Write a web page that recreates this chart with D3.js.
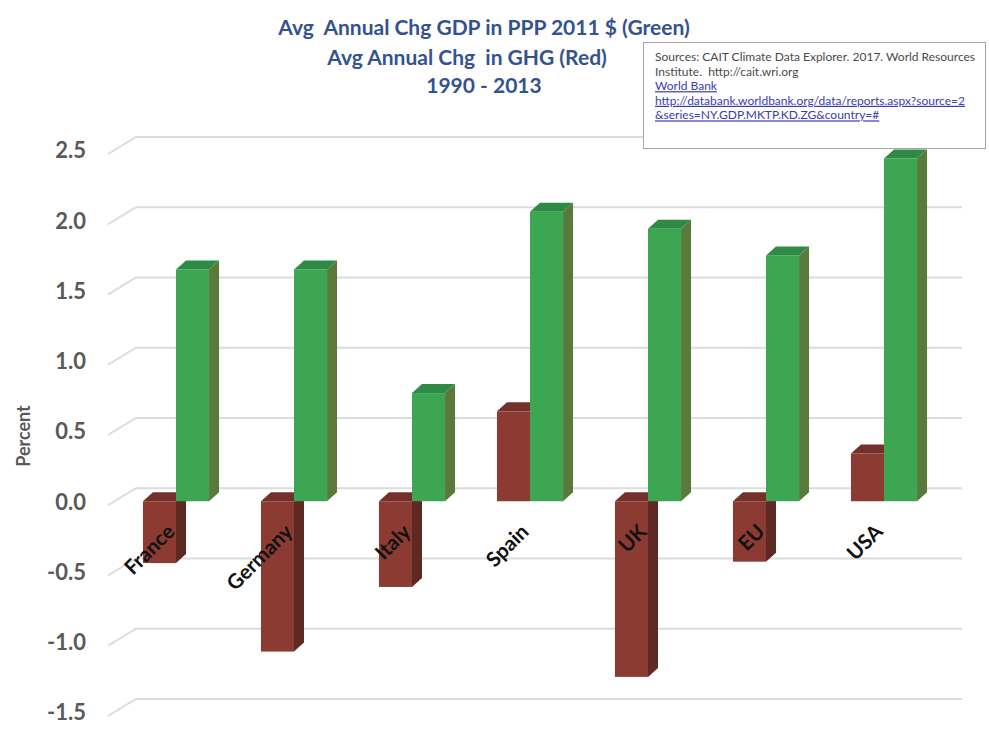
<!DOCTYPE html>
<html>
<head>
<meta charset="utf-8">
<script src="https://cdn.jsdelivr.net/npm/d3@7"></script>
<style>
  html, body { margin: 0; padding: 0; background: #ffffff; }
  svg { display: block; }
  text { white-space: pre; }
</style>
</head>
<body>
<svg id="chart" width="989" height="733"></svg>
<script>
// ---------- data ----------
const categories = ["France", "Germany", "Italy", "Spain", "UK", "EU", "USA"];
const ghgChange = [-0.44, -1.07, -0.61, 0.64, -1.25, -0.43, 0.34];   // red
const gdpChange = [1.65, 1.65, 0.77, 2.06, 1.94, 1.75, 2.44];        // green
const yTickValues = [-1.5, -1.0, -0.5, 0.0, 0.5, 1.0, 1.5, 2.0, 2.5];
const titleLines = ["Avg  Annual Chg GDP in PPP 2011 $ (Green)", "Avg Annual Chg  in GHG (Red)", "1990 - 2013"];
const sourceLines = [
  "Sources: CAIT Climate Data Explorer. 2017. World Resources",
  "Institute.  http://cait.wri.org",
  "World Bank",
  "http://databank.worldbank.org/data/reports.aspx?source=2",
  "&series=NY.GDP.MKTP.KD.ZG&country=#"
];
const sourceIsLink = [false, false, true, true, true];
const yAxisTitle = "Percent";

// ---------- layout ----------
const svg = d3.select("#chart");
const FONT = "Lato, 'Open Sans', 'DejaVu Sans', sans-serif";
const depthX = 10, depthY = -9;     // bar depth
const wallX = 28, wallY = -17;      // back-wall offset

const x = d3.scaleBand().domain(categories).range([117, 943]).paddingInner(0.44).paddingOuter(0.22);
const x1 = d3.scaleBand().domain(["ghg", "gdp"]).range([0, x.bandwidth()]);
const y = d3.scaleLinear().domain([-1.5, 2.5]).range([712, 150]);

const colors = {
  ghg: { front: "#8c3b32", side: "#5e2922", top: "#74302a" },
  gdp: { front: "#3ca653", side: "#5a7a3b", top: "#2f8a45" }
};

// ---------- gridlines (side wall + back wall) ----------
const gridG = svg.append("g");
gridG.selectAll("path").data(yTickValues).join("path")
  .attr("d", d => {
    const yy = y(d);
    return `M${108},${yy + 4} L${108 + wallX},${yy + 4 + wallY} L${962},${yy + 4 + wallY}`;
  })
  .attr("fill", "none")
  .attr("stroke", "#dcdcdc")
  .attr("stroke-width", 2);

// ---------- bars ----------
const rows = categories.map((c, i) => ({ cat: c, ghg: ghgChange[i], gdp: gdpChange[i] }));
const barG = svg.append("g");

function drawBar(g, x0, w, v, col) {
  const y0 = y(0), yv = y(v);
  const top = Math.min(y0, yv), bot = Math.max(y0, yv);
  g.append("path")
    .attr("d", `M${x0 + w},${top} L${x0 + w + depthX},${top + depthY} L${x0 + w + depthX},${bot + depthY} L${x0 + w},${bot} Z`)
    .attr("fill", col.side);
  g.append("path")
    .attr("d", `M${x0},${top} L${x0 + depthX},${top + depthY} L${x0 + w + depthX},${top + depthY} L${x0 + w},${top} Z`)
    .attr("fill", col.top);
  g.append("rect")
    .attr("x", x0).attr("y", top).attr("width", w).attr("height", bot - top)
    .attr("fill", col.front);
}

rows.forEach(r => {
  const g = barG.append("g");
  const gx = x(r.cat);
  drawBar(g, gx + x1("ghg"), x1.bandwidth(), r.ghg, colors.ghg);
  drawBar(g, gx + x1("gdp"), x1.bandwidth(), r.gdp, colors.gdp);
});

// ---------- category labels ----------
svg.append("g").selectAll("text").data(categories).join("text")
  .attr("transform", d => `translate(${x(d) + 33},${533}) rotate(-45)`)
  .attr("text-anchor", "end")
  .attr("font-family", FONT)
  .attr("font-weight", "bold")
  .attr("font-size", 20.5)
  .attr("fill", "#111111")
  .text(d => d);

// ---------- y axis ----------
const yAxis = d3.axisLeft(y).tickValues(yTickValues).tickSize(0).tickPadding(0)
  .tickFormat(d => d.toFixed(1));
const axG = svg.append("g").attr("transform", "translate(86,0)").call(yAxis);
axG.select(".domain").remove();
axG.selectAll("text")
  .attr("font-family", FONT)
  .attr("font-weight", "bold")
  .attr("font-size", 22)
  .attr("fill", "#595959")
  .attr("dy", "0.36em");

svg.append("text")
  .attr("transform", "translate(30,436) rotate(-90)")
  .attr("text-anchor", "middle")
  .attr("font-family", FONT)
  .attr("font-weight", "bold")
  .attr("font-size", 18)
  .attr("fill", "#595959")
  .text(yAxisTitle);

// ---------- title ----------
const titleX = [484, 467, 484];
const titleY = [35, 65, 93];
svg.append("g").selectAll("text").data(titleLines).join("text")
  .attr("x", (d, i) => titleX[i])
  .attr("y", (d, i) => titleY[i])
  .attr("text-anchor", "middle")
  .attr("font-family", FONT)
  .attr("font-weight", "bold")
  .attr("font-size", 21)
  .attr("fill", "#34528e")
  .text(d => d);

// ---------- sources box ----------
const srcG = svg.append("g");
srcG.append("rect")
  .attr("x", 643.5).attr("y", 42.5).attr("width", 342).attr("height", 106)
  .attr("fill", "#ffffff").attr("stroke", "#a6a6a6").attr("stroke-width", 1);
srcG.selectAll("text").data(sourceLines).join("text")
  .attr("x", 655)
  .attr("y", (d, i) => 61 + i * 14.6)
  .attr("font-family", FONT)
  .attr("font-size", 12)
  .attr("textLength", null)
  .attr("fill", (d, i) => sourceIsLink[i] ? "#3b3bb5" : "#4a4a4a")
  .attr("text-decoration", (d, i) => sourceIsLink[i] ? "underline" : null)
  .text(d => d);
</script>
</body>
</html>
